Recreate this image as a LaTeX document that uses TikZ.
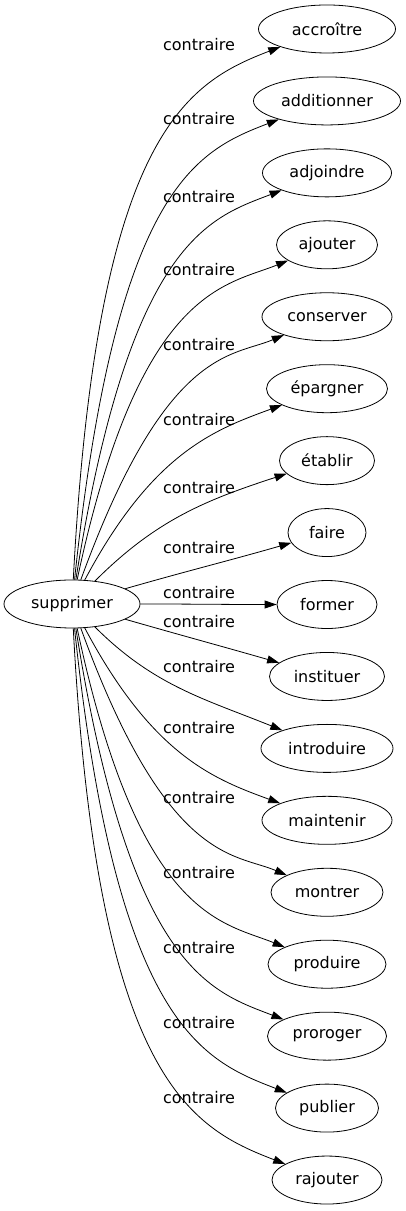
\documentclass[tikz,border=0pt]{standalone}
\usepackage{fontspec}
\setmainfont{DejaVu Sans}
\usetikzlibrary{shapes.geometric,arrows.meta}

\tikzset{
  word/.style={draw, ellipse, line width=0.8pt, inner sep=1pt, minimum height=48pt,
    font=\fontsize{16}{19}\selectfont},
  rel/.style={font=\fontsize{16}{19}\selectfont, inner sep=1pt},
  contra/.style={-{Triangle[length=12pt,width=8pt]}, line width=0.8pt}
}

\begin{document}
\begin{tikzpicture}[x=1pt,y=1pt]
  \useasboundingbox (0,0) rectangle (406,1211);
  \node[word, minimum width=136pt] (supprimer) at (72,607) {supprimer};
  % name / width / label y / out / in / out looseness / in looseness
  \foreach \n/\w/\ly/\o/\a/\lo/\li [count=\i] in {
      accroître/137/45/87/201/2/0.45, additionner/147/119/84/201/2/0.45,
      adjoindre/129/197/81/201/2/0.45, ajouter/101/270/78/202/2/0.45,
      conserver/130/345/70/203/2/0.45, épargner/121/420/62/200/1.4/0.7,
      établir/95/488/45/198/1/1, faire/78/548/16/196/1/1,
      former/100/593/0/180/1/1, instituer/115/622/-16/164/1/1,
      introduire/132/667/-45/158/1/1, maintenir/130/728/-62/160/1.4/0.7,
      montrer/112/798/-70/157/2/0.45, produire/118/873/-78/158/2/0.45,
      proroger/119/948/-81/159/2/0.45, publier/103/1023/-84/159/2/0.45,
      rajouter/110/1098/-87/159/2/0.45} {
    \pgfmathsetmacro\ty{1182-(\i-1)*71.94}
    \node[word, minimum width=\w pt] (t\i) at (327,\ty) {\n};
    \node[rel] (l\i) at (199,1211-\ly) {contraire};
    \draw[contra] (supprimer) to[out=\o, in=\a, out looseness=\lo, in looseness=\li] (t\i);
  }
\end{tikzpicture}
\end{document}
